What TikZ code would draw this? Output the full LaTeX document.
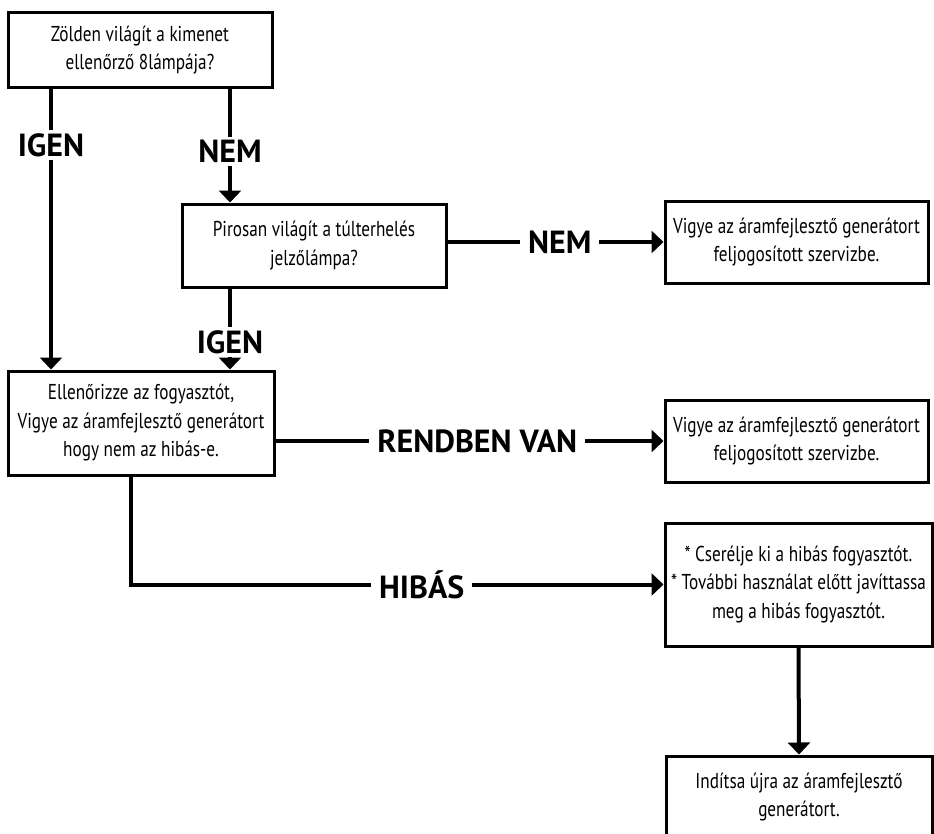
\documentclass[tikz,border=0pt]{standalone}
\usepackage{fontspec}
\setmainfont{PT Sans}
\newfontfamily\boxfont[FakeStretch=0.8]{PT Sans}
\newfontfamily\labfont{PT Sans Bold}
\usetikzlibrary{arrows.meta}
\begin{document}
\begin{tikzpicture}[x=1pt,y=-1pt,
  box/.style={draw,line width=3pt,inner sep=0pt,align=center,
    font=\boxfont\fontsize{21.5}{28.5}\selectfont},
  conn/.style={line width=4pt},
  arr/.style={conn,-{Triangle[length=12pt,width=22pt]}},
  lab/.style={fill=white,inner xsep=8pt,inner ysep=3pt,
    font=\labfont\fontsize{32}{34}\selectfont}]
\useasboundingbox (0,0) rectangle (934,833);
\node[box,minimum width=264pt,minimum height=75pt] (b1) at (140,50)
  {Zölden világít a kimenet\\ellenőrző 8lámpája?};
\node[box,minimum width=264pt,minimum height=83pt] (b2) at (314,245.5)
  {Pirosan világít a túlterhelés\\jelzőlámpa?};
\node[box,minimum width=266pt,minimum height=104pt] (b3) at (141,423)
  {Ellenőrizze az fogyasztót,\\Vigye az áramfejlesztő generátort\\hogy nem az hibás-e.};
\node[box,minimum width=263pt,minimum height=82pt] (b4) at (796.5,242)
  {Vigye az áramfejlesztő generátort\\feljogosított szervizbe.};
\node[box,minimum width=263pt,minimum height=82pt] (b5) at (796.5,441)
  {Vigye az áramfejlesztő generátort\\feljogosított szervizbe.};
\node[box,minimum width=267pt,minimum height=123pt] (b6) at (798.5,584.5)
  {* Cserélje ki a hibás fogyasztót.\\* További használat előtt javíttassa\\meg a hibás fogyasztót.};
\node[box,minimum width=266pt,minimum height=82pt] (b7) at (799,797)
  {Indítsa újra az áramfejlesztő\\generátort.};
\coordinate (cl) at (51,0);
\coordinate (cr) at (230,0);
\draw[arr] (b1.south -| cl) -- node[lab,pos=0.2]{IGEN} (b3.north -| cl);
\draw[arr] (b1.south -| cr) -- node[lab,pos=0.55]{NEM} (b2.north -| cr);
\draw[arr] (b2.south -| cr) -- node[lab,pos=0.66]{IGEN} (b3.north -| cr);
\draw[arr] (b2.east |- b4.west) -- node[lab,pos=0.52]{NEM} (b4.west);
\draw[arr] (b3.east |- b5.west) -- node[lab,pos=0.52]{RENDBEN VAN} (b5.west);
\draw[arr] ([xshift=-10pt]b3.south) |- node[lab,pos=0.773]{HIBÁS} (b6.west);
\draw[arr] (b6.south) -- (b7.north);
\end{tikzpicture}
\end{document}
